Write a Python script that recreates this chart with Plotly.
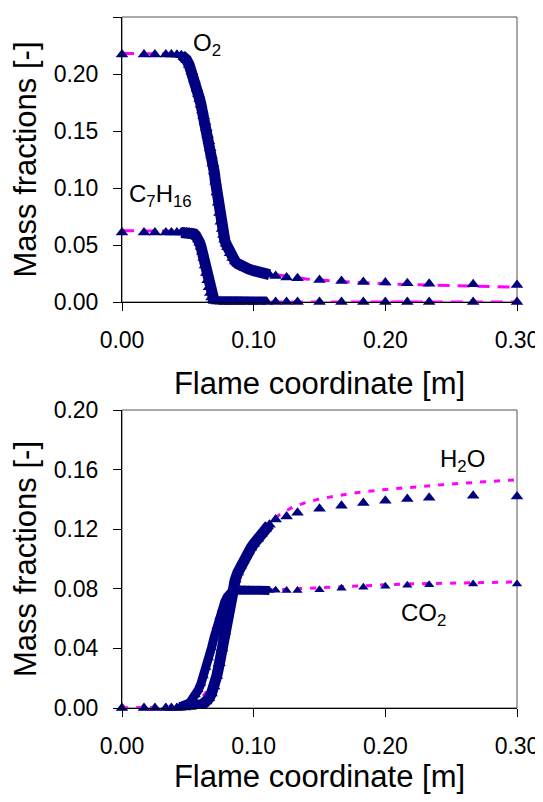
import plotly.graph_objects as go

# ---------------- data: top panel (O2, C7H16) ----------------
x_early = [0.0, 0.0167, 0.025, 0.0333, 0.0375, 0.0417]
x_sparse = [0.1167, 0.125, 0.1333, 0.15, 0.1667, 0.1833, 0.2, 0.2167, 0.2333, 0.2667, 0.3]

o2_early = [0.2172, 0.2172, 0.2172, 0.2171, 0.2170, 0.2168]
o2_dense_x = [0.045, 0.047, 0.049, 0.051, 0.053, 0.055, 0.057, 0.058, 0.059, 0.060, 0.061,
              0.062, 0.063, 0.064, 0.065, 0.066, 0.067, 0.068, 0.069, 0.070, 0.071, 0.072,
              0.073, 0.074, 0.075, 0.076, 0.077, 0.078, 0.079, 0.080, 0.082, 0.084, 0.086,
              0.088, 0.090, 0.093, 0.096, 0.100, 0.104, 0.108, 0.112]
o2_dense_y = [0.2165, 0.2150, 0.2125, 0.2080, 0.2020, 0.1950, 0.1870, 0.1825, 0.1778, 0.1730, 0.1680,
              0.1630, 0.1578, 0.1525, 0.1468, 0.1410, 0.1348, 0.1285, 0.1215, 0.1145, 0.1055, 0.0960,
              0.0870, 0.0780, 0.0705, 0.0640, 0.0588, 0.0545, 0.0510, 0.0480, 0.0428, 0.0385, 0.0355,
              0.0335, 0.0320, 0.0303, 0.0290, 0.0275, 0.0262, 0.0250, 0.0240]
o2_sparse = [0.0228, 0.0216, 0.0208, 0.0193, 0.0184, 0.0175, 0.0170, 0.0164, 0.0161, 0.0155, 0.0149]
o2_line_x = [0.0, 0.02, 0.04, 0.05, 0.06, 0.07, 0.08, 0.09, 0.10, 0.11, 0.12, 0.14, 0.16,
             0.18, 0.20, 0.22, 0.24, 0.26, 0.28, 0.30]
o2_line_y = [0.218, 0.218, 0.2175, 0.212, 0.174, 0.115, 0.048, 0.032, 0.0275, 0.0250, 0.0232,
             0.0202, 0.0184, 0.0170, 0.0160, 0.0152, 0.0145, 0.0139, 0.0134, 0.0129]

c7_early = [0.0610, 0.0610, 0.0610, 0.0610, 0.0610, 0.0610]
c7_dense_x = [0.045, 0.047, 0.049, 0.051, 0.053, 0.054, 0.055, 0.056, 0.057, 0.058, 0.059, 0.060,
              0.061, 0.062, 0.063, 0.064, 0.065, 0.066, 0.067, 0.068, 0.069, 0.070, 0.072, 0.075,
              0.078, 0.082, 0.086, 0.090, 0.095, 0.100, 0.105, 0.110]
c7_dense_y = [0.0610, 0.0610, 0.0610, 0.0609, 0.0606, 0.0603, 0.0596, 0.0585, 0.0570, 0.0548, 0.0520,
              0.0485, 0.0440, 0.0385, 0.0320, 0.0255, 0.0190, 0.0130, 0.0078, 0.0040, 0.0018, 0.0008,
              0.0004, 0.0002, 0.0001, 0.0001, 0.0, 0.0, 0.0, 0.0, 0.0, 0.0]
c7_sparse = [0.0, 0.0, 0.0, 0.0, 0.0, 0.0, 0.0, 0.0, 0.0, 0.0, 0.0]
c7_line_x = [0.0, 0.02, 0.04, 0.05, 0.055, 0.06, 0.065, 0.07, 0.08, 0.10, 0.15, 0.20, 0.25, 0.30]
c7_line_y = [0.0625, 0.0625, 0.0624, 0.0620, 0.0600, 0.0480, 0.0190, 0.0010, 0.0, 0.0, 0.0, 0.0, 0.0, 0.0]

# ---------------- data: bottom panel (H2O, CO2) ----------------
h2o_early = [0.0, 0.0, 0.0, 0.0, 0.0, 0.0]
h2o_dense_x = [0.044, 0.048, 0.052, 0.056, 0.060, 0.062, 0.064, 0.066, 0.068, 0.070, 0.072,
               0.074, 0.076, 0.078, 0.080, 0.082, 0.084, 0.086, 0.088, 0.090, 0.092, 0.094,
               0.096, 0.098, 0.100, 0.103, 0.106, 0.109, 0.112]
h2o_dense_y = [0.0002, 0.0004, 0.0007, 0.0012, 0.0022, 0.0030, 0.0044, 0.0065, 0.0098, 0.0145, 0.0215,
               0.0300, 0.0400, 0.0510, 0.0620, 0.0715, 0.0795, 0.0860, 0.0910, 0.0952, 0.0990, 0.1022,
               0.1050, 0.1075, 0.1100, 0.1135, 0.1170, 0.1200, 0.1230]
h2o_sparse = [0.1265, 0.1285, 0.1310, 0.1338, 0.1358, 0.1376, 0.1391, 0.1403, 0.1411, 0.1425, 0.1420]
h2o_line_x = [0.0, 0.02, 0.04, 0.05, 0.06, 0.07, 0.08, 0.09, 0.10, 0.11, 0.12, 0.13, 0.14, 0.15,
              0.175, 0.20, 0.225, 0.25, 0.275, 0.30]
h2o_line_y = [0.0, 0.0, 0.0005, 0.0020, 0.0060, 0.0180, 0.0500, 0.0900, 0.1100, 0.1225, 0.1300,
              0.1350, 0.1380, 0.1403, 0.1442, 0.1467, 0.1487, 0.1503, 0.1518, 0.1532]

co2_early = [0.0, 0.0, 0.0, 0.0, 0.0, 0.0]
co2_dense_x = [0.044, 0.046, 0.048, 0.050, 0.052, 0.054, 0.056, 0.058, 0.060, 0.062, 0.064,
               0.066, 0.068, 0.070, 0.072, 0.074, 0.076, 0.078, 0.080, 0.082, 0.084, 0.086,
               0.088, 0.090, 0.093, 0.096, 0.100, 0.104, 0.108, 0.112]
co2_dense_y = [0.0008, 0.0012, 0.0018, 0.0028, 0.0042, 0.0062, 0.0088, 0.0122, 0.0165, 0.0215, 0.0272,
               0.0335, 0.0405, 0.0475, 0.0545, 0.0610, 0.0665, 0.0712, 0.0748, 0.0772, 0.0786, 0.0792,
               0.0794, 0.0794, 0.0793, 0.0792, 0.0791, 0.0790, 0.0789, 0.0789]
co2_sparse = [0.0790, 0.0788, 0.0788, 0.0794, 0.0803, 0.0810, 0.0817, 0.0823, 0.0828, 0.0832, 0.0832]
co2_line_x = [0.0, 0.02, 0.04, 0.05, 0.06, 0.07, 0.08, 0.09, 0.10, 0.12, 0.15, 0.175, 0.20,
              0.225, 0.25, 0.275, 0.30]
co2_line_y = [0.0, 0.0, 0.0003, 0.0030, 0.0160, 0.0480, 0.0750, 0.0793, 0.0790, 0.0795, 0.0808,
              0.0818, 0.0827, 0.0834, 0.0839, 0.0843, 0.0846]

x_ticks = [0.0, 0.1, 0.2, 0.3]
y_ticks_top = [0.0, 0.05, 0.10, 0.15, 0.20, 0.25]
y_ticks_bot = [0.0, 0.04, 0.08, 0.12, 0.16, 0.20]

NAVY = "#000080"
MAG = "#FF00FF"
FONT = "Liberation Sans, Arial, sans-serif"

fig = go.Figure()


def add_species(xa, ya, ex, ey, dx, dy, sx, sy, lx, ly, msize, dash):
    fig.add_trace(go.Scatter(x=lx, y=ly, mode="lines", xaxis=xa, yaxis=ya,
                             line=dict(color=MAG, width=3, dash=dash), cliponaxis=False,
                             showlegend=False, hoverinfo="skip"))
    fig.add_trace(go.Scatter(x=dx, y=dy, mode="lines+markers", xaxis=xa, yaxis=ya,
                             line=dict(color=NAVY, width=msize),
                             marker=dict(symbol="triangle-up", size=msize, color=NAVY),
                             cliponaxis=False, showlegend=False))
    fig.add_trace(go.Scatter(x=ex + sx, y=ey + sy, mode="markers", xaxis=xa, yaxis=ya,
                             marker=dict(symbol="triangle-up", size=msize, color=NAVY),
                             cliponaxis=False, showlegend=False))


add_species("x", "y", x_early, o2_early, o2_dense_x, o2_dense_y, x_sparse, o2_sparse,
            o2_line_x, o2_line_y, 11, "12px,8px")
add_species("x", "y", x_early, c7_early, c7_dense_x, c7_dense_y, x_sparse, c7_sparse,
            c7_line_x, c7_line_y, 11, "12px,8px")
add_species("x2", "y2", x_early, h2o_early, h2o_dense_x, h2o_dense_y, x_sparse, h2o_sparse,
            h2o_line_x, h2o_line_y, 11, "6px,8px")
add_species("x2", "y2", x_early, co2_early, co2_dense_x, co2_dense_y, x_sparse, co2_sparse,
            co2_line_x, co2_line_y, 9, "6px,8px")

# page body has an 8px margin, so the figure is drawn from (8, 8);
# keep the page free of scrolling so nothing is clipped
OFF = 8
W, H = 535, 786
xdom = [(122 - OFF) / W, (517 - OFF) / W]
ydom_top = [(H - (302 - OFF)) / H, (H - (17 - OFF)) / H]
ydom_bot = [(H - (708 - OFF)) / H, (H - (410 - OFF)) / H]

common_x = dict(range=[0, 0.3], tickvals=x_ticks, tickformat=".2f", ticks="outside", ticklen=8,
                tickcolor="black", showline=True, linecolor="black", linewidth=1,
                showgrid=False, zeroline=False, tickfont=dict(size=23, color="black"),
                automargin=False, ticklabelstandoff=9,
                title=dict(text="Flame coordinate [m]", font=dict(size=31, color="black"),
                           standoff=20))
common_y = dict(tickformat=".2f", ticks="outside", ticklen=8, tickcolor="black",
                showline=True, linecolor="black", linewidth=1, showgrid=False, zeroline=False,
                tickfont=dict(size=23, color="black"), automargin=False, ticklabelstandoff=10,
                title=dict(text="Mass fractions [-]", font=dict(size=31, color="black"),
                           standoff=11))

fig.update_layout(
    width=W, height=H, margin=dict(l=0, r=0, t=0, b=0, autoexpand=False),
    paper_bgcolor="white", plot_bgcolor="white",
    font=dict(family=FONT, color="black"),
    xaxis=dict(domain=xdom, anchor="y", **common_x),
    yaxis=dict(domain=ydom_top, anchor="x", range=[0, 0.25], tickvals=y_ticks_top, **common_y),
    xaxis2=dict(domain=xdom, anchor="y2", **common_x),
    yaxis2=dict(domain=ydom_bot, anchor="x2", range=[0, 0.20], tickvals=y_ticks_bot, **common_y),
    shapes=[
        dict(type="rect", xref="x domain", yref="y domain", x0=0, x1=1, y0=0, y1=1,
             line=dict(color="#555555", width=1), layer="below"),
        dict(type="rect", xref="x2 domain", yref="y2 domain", x0=0, x1=1, y0=0, y1=1,
             line=dict(color="#555555", width=1), layer="below"),
    ],
    annotations=[
        dict(text="O<sub>2</sub>", x=0.0525, y=0.2262, xref="x", yref="y", xanchor="left",
             yanchor="middle", showarrow=False, font=dict(size=24, color="black")),
        dict(text="C<sub>7</sub>H<sub>16</sub>", x=0.0035, y=0.0935, xref="x", yref="y",
             xanchor="left", yanchor="middle", showarrow=False, font=dict(size=24, color="black")),
        dict(text="H<sub>2</sub>O", x=0.240, y=0.1660, xref="x2", yref="y2", xanchor="left",
             yanchor="middle", showarrow=False, font=dict(size=24, color="black")),
        dict(text="CO<sub>2</sub>", x=0.2100, y=0.0625, xref="x2", yref="y2", xanchor="left",
             yanchor="middle", showarrow=False, font=dict(size=24, color="black")),
    ],
)

fig.write_html("out.html")
